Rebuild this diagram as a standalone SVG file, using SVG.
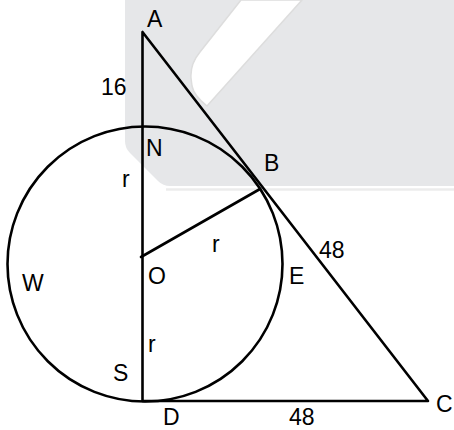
<svg xmlns="http://www.w3.org/2000/svg" width="454" height="430" viewBox="0 0 454 430">
<style>
.ln{fill:none;stroke:#000;stroke-width:2.6;stroke-linecap:round;stroke-linejoin:round}
.lb{font-family:"Liberation Sans",Arial,sans-serif;font-size:23px;fill:#000}
</style>
<g id="watermark">
<path d="M125,0 L454,0 L454,186 L170,186 Q163,186 158,181 L130,153 Q125,148 125,141 Z" fill="#e6e7e9"/>
<path d="M166,189.5 L454,189.5" stroke="#ececec" stroke-width="2.5"/>
<path d="M241,0 L200,52 Q190,64 191,78 L192,86 Q194,96 207,106 L302,0 Z" fill="#fff" stroke="#dddddd" stroke-width="1.5"/>
</g>
<g id="figure">
<circle class="ln" cx="145" cy="264" r="137.5"/>
<path class="ln" d="M142.5,32 L142.5,401 L428,401 Z"/>
<path class="ln" d="M141,257 L260,189"/>
</g>
<g id="labels">
<text class="lb" x="147" y="27">A</text>
<text class="lb" x="101" y="95">16</text>
<text class="lb" x="146" y="156">N</text>
<text class="lb" x="264" y="171">B</text>
<text class="lb" x="122" y="187">r</text>
<text class="lb" x="212" y="252">r</text>
<text class="lb" x="319" y="258">48</text>
<text class="lb" x="148" y="284">O</text>
<text class="lb" x="289" y="284">E</text>
<text class="lb" x="22" y="291">W</text>
<text class="lb" x="148" y="352">r</text>
<text class="lb" x="113" y="381">S</text>
<text class="lb" x="163" y="425">D</text>
<text class="lb" x="289" y="425">48</text>
<text class="lb" x="436" y="412">C</text>
</g>
</svg>
